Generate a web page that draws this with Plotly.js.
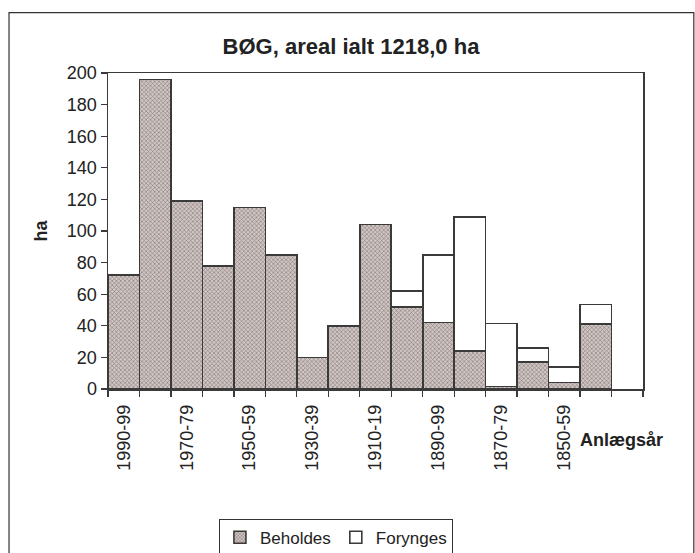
<!DOCTYPE html>
<html>
<head>
<meta charset="utf-8">
<script src="https://cdn.plot.ly/plotly-3.0.1.min.js"></script>
<style>html,body{margin:0;padding:0;background:#fff;}#chart{width:695px;height:553px;}</style>
</head>
<body>
<div id="chart"></div>
<script>
const categories = ["1990-99","1980-89","1970-79","1960-69","1950-59","1940-49","1930-39","1920-29","1910-19","1900-09","1890-99","1880-89","1870-79","1860-69","1850-59","1840-49","1830-39"];
const tickLabels = ["1990-99","","1970-79","","1950-59","","1930-39","","1910-19","","1890-99","","1870-79","","1850-59","",""];
const beholdes = [72, 196, 119, 78, 115, 85, 20, 40, 104, 52, 42, 24, 1.5, 17, 4, 41, null];
const forynges = [null, null, null, null, null, null, null, null, null, 10, 43, 85, 40, 9, 10, 12.5, null];

const FONT = "Liberation Sans, Arial, sans-serif";
const LINE = "#3a3a3a";

const traces = [
  {
    type: "bar", name: "Beholdes", x: categories, y: beholdes,
    marker: {
      color: "#bab0ae",
      pattern: {shape: "x", size: 3, solidity: 0.35, fgcolor: "#827674", bgcolor: "#d0c6c4", fillmode: "replace"},
      line: {color: LINE, width: 1.6}
    },
    hoverinfo: "x+y"
  },
  {
    type: "bar", name: "Forynges", x: categories, y: forynges,
    marker: {color: "#ffffff", line: {color: LINE, width: 1.6}},
    hoverinfo: "x+y"
  }
];

const layout = {
  width: 695, height: 553,
  margin: {l: 108, r: 52, t: 73, b: 164, autoexpand: false},
  paper_bgcolor: "#ffffff", plot_bgcolor: "#ffffff",
  barmode: "stack", bargap: 0,
  showlegend: true,
  font: {family: FONT, size: 18, color: "#222"},
  title: {text: "<b>BØG, areal ialt 1218,0 ha</b>", x: 0.505, xanchor: "center", y: 0.917, yanchor: "middle", font: {family: FONT, size: 22, color: "#222"}},
  xaxis: {
    type: "category", categoryorder: "array", categoryarray: categories,
    tickvals: categories, ticktext: tickLabels, tickangle: -90,
    tickson: "boundaries", ticks: "outside", ticklen: 6, tickwidth: 1.3, tickcolor: LINE,
    ticklabelstandoff: 7,
    showline: true, linecolor: LINE, linewidth: 1.5, mirror: true,
    showgrid: false, zeroline: false, range: [-0.5, 16.5], automargin: false,
    tickfont: {family: FONT, size: 18, color: "#222"}
  },
  yaxis: {
    range: [0, 200], dtick: 20, tick0: 0,
    ticks: "outside", ticklen: 6, tickwidth: 1.3, tickcolor: LINE,
    showline: true, linecolor: LINE, linewidth: 1.5, mirror: true,
    showgrid: false, zeroline: false, automargin: false,
    tickfont: {family: FONT, size: 18, color: "#222"},
    title: {text: "<b>ha</b>", font: {family: FONT, size: 18, color: "#222"}, standoff: 14}
  },
  legend: {
    orientation: "h", xref: "container", yref: "container", x: 0.315, xanchor: "left", y: 0.062, yanchor: "top",
    bordercolor: "#333", borderwidth: 1, bgcolor: "#fff",
    font: {family: FONT, size: 17, color: "#222"},
    traceorder: "normal", itemwidth: 30
  },
  annotations: [
    {text: "<b>Anlægsår</b>", xref: "paper", yref: "paper", x: 0.959, y: -0.16, xanchor: "center", yanchor: "middle", showarrow: false, font: {family: FONT, size: 18, color: "#222"}}
  ],
  shapes: [
    {type: "rect", xref: "paper", yref: "paper", x0: -0.185, x1: 1.095, y0: -0.7, y1: 1.191, line: {color: "#333", width: 1.2}, fillcolor: "rgba(0,0,0,0)", layer: "below"}
  ]
};

Plotly.newPlot("chart", traces, layout, {displayModeBar: false, staticPlot: true});
</script>
</body>
</html>
